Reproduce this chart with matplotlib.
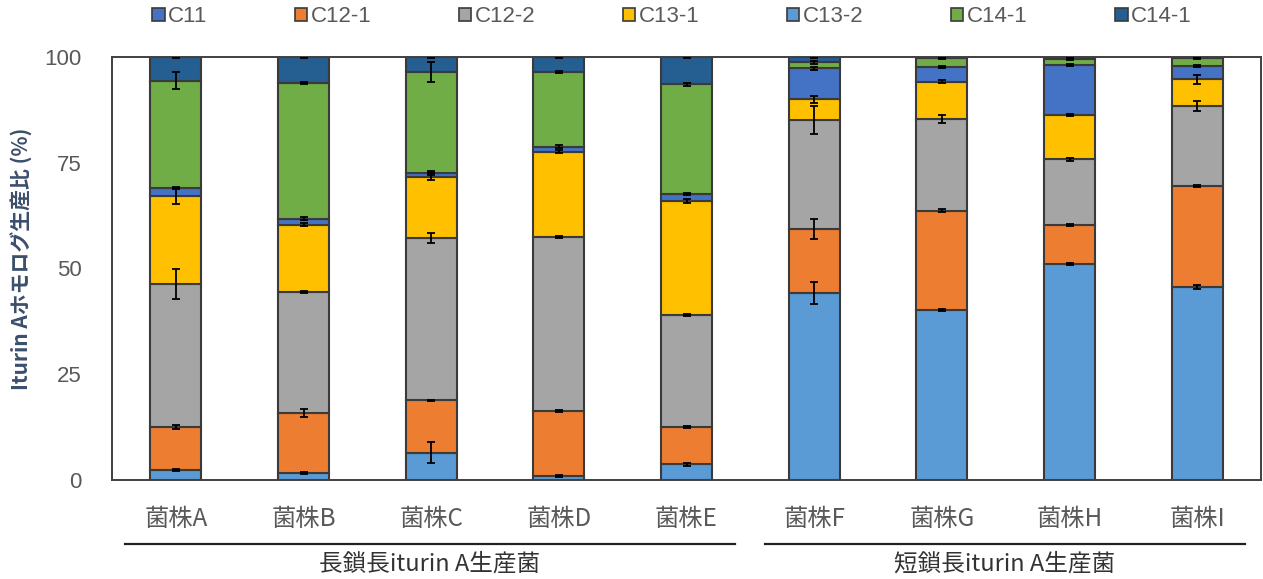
import numpy as np
import matplotlib
matplotlib.use("Agg")
import matplotlib.pyplot as plt
from matplotlib.patches import Patch
from matplotlib.lines import Line2D

# strains and groups
strains = ["菌株A", "菌株B", "菌株C", "菌株D", "菌株E", "菌株F", "菌株G", "菌株H", "菌株I"]
group_names = ["長鎖長iturin A生産菌", "短鎖長iturin A生産菌"]

# segment values (%), in stacking order from the bottom
c13_2 = [2.4, 1.7, 6.5, 1.0, 3.7, 44.2, 40.2, 51.1, 45.7]
c12_1 = [10.1, 14.1, 12.3, 15.3, 8.8, 15.2, 23.5, 9.2, 23.8]
c12_2 = [33.8, 28.6, 38.5, 41.1, 26.5, 25.7, 21.6, 15.5, 18.9]
c13_1 = [20.8, 16.0, 14.4, 20.2, 27.0, 4.9, 8.9, 10.5, 6.3]
c11 = [1.9, 1.4, 0.9, 1.2, 1.6, 7.3, 3.4, 11.8, 3.2]
c14_1 = [25.4, 32.1, 23.8, 17.7, 25.9, 1.4, 2.1, 1.5, 1.8]
c14_1b = [5.6, 6.1, 3.6, 3.5, 6.5, 1.3, 0.3, 0.4, 0.3]

# error (+/-) at the top of each segment
err_c13_2 = [0.3, 0.2, 2.4, 0.2, 0.3, 2.6, 0.3, 0.3, 0.5]
err_c12_1 = [0.4, 1.0, 0.2, 0.2, 0.3, 2.4, 0.3, 0.3, 0.3]
err_c12_2 = [3.5, 0.3, 1.2, 0.3, 0.3, 3.2, 1.0, 0.3, 1.1]
err_c13_1 = [1.9, 0.3, 0.8, 0.3, 0.4, 0.8, 0.3, 0.2, 1.1]
err_c11 = [0.3, 0.3, 0.4, 0.3, 0.2, 0.3, 0.2, 0.3, 0.3]
err_c14_1 = [2.0, 0.2, 2.3, 0.3, 0.3, 0.3, 0.2, 0.2, 0.2]
err_c14_1b = [0.2, 0.2, 0.2, 0.2, 0.2, 0.2, 0.2, 0.2, 0.2]

series = [
    ("C13-2", c13_2, err_c13_2, "#5B9BD5"),
    ("C12-1", c12_1, err_c12_1, "#ED7D31"),
    ("C12-2", c12_2, err_c12_2, "#A5A5A5"),
    ("C13-1", c13_1, err_c13_1, "#FFC000"),
    ("C11", c11, err_c11, "#4472C4"),
    ("C14-1", c14_1, err_c14_1, "#70AD47"),
    ("C14-1", c14_1b, err_c14_1b, "#255E91"),
]
legend_order = [4, 1, 2, 3, 0, 5, 6]

W, H = 1263, 579
fig = plt.figure(figsize=(W / 100, H / 100), dpi=100)
ax = fig.add_axes([112 / W, (H - 480) / H, 1149 / W, 423 / H])

x = np.arange(len(strains))
bottom = np.zeros(len(strains))
edge = "#3a3a3a"
for name, vals, err, col in series:
    vals = np.array(vals)
    ax.bar(x, vals, 0.4, bottom=bottom, color=col, edgecolor=edge, linewidth=1.5, zorder=2)
    top = bottom + vals
    ax.errorbar(x, top, yerr=err, fmt="none", ecolor="black", elinewidth=1.3,
                capsize=3, capthick=1.3, zorder=3)
    bottom = top

ax.set_xlim(-0.5, 8.5)
ax.set_ylim(0, 100)
ax.set_yticks([0, 25, 50, 75, 100])
for s in ax.spines.values():
    s.set_color("#404040")
    s.set_linewidth(1.4)
ax.tick_params(axis="y", length=0, pad=22, labelsize=16, labelcolor="#595959")
ax.tick_params(axis="x", length=0, pad=19)
for lab in ax.get_yticklabels():
    lab.set_family(["Liberation Sans", "DejaVu Sans"])
ax.set_xticks(x)
ax.set_xticklabels(strains, fontsize=17.5, color="#595959", family=["Noto Sans CJK JP", "DejaVu Sans"])

fig.text(22 / W, (H - 259) / H, "Iturin Aホモログ生産比 (%)", rotation=90, ha="center", va="center",
         fontsize=15, fontweight="bold", color="#3B4E6B",
         family=["Noto Sans CJK JP", "DejaVu Sans"])

# legend
handles = [Patch(facecolor=series[i][3], edgecolor=edge, linewidth=1.2) for i in legend_order]
labels = [series[i][0] for i in legend_order]
leg = fig.legend(handles, labels, loc="center", bbox_to_anchor=(672 / W, 1 - 17 / H), ncol=7,
                 frameon=False, handlelength=0.55, handleheight=0.55,
                 handletextpad=0.15, columnspacing=3.95,
                 prop={"family": ["Liberation Sans", "DejaVu Sans"], "size": 16})
for t in leg.get_texts():
    t.set_color("#595959")

# group brackets under the axis
groups = [(125, 735, group_names[0]), (765, 1245, group_names[1])]
for x0, x1, name in groups:
    fig.add_artist(Line2D([x0 / W, x1 / W], [1 - 544 / H, 1 - 544 / H], color="#222222", linewidth=1.6))
    fig.text((x0 + x1) / 2 / W, 1 - 564 / H, name, ha="center", va="center", fontsize=17,
             color="#333333", family=["Noto Sans CJK JP", "DejaVu Sans"])

fig.savefig("out.png", dpi=100)
